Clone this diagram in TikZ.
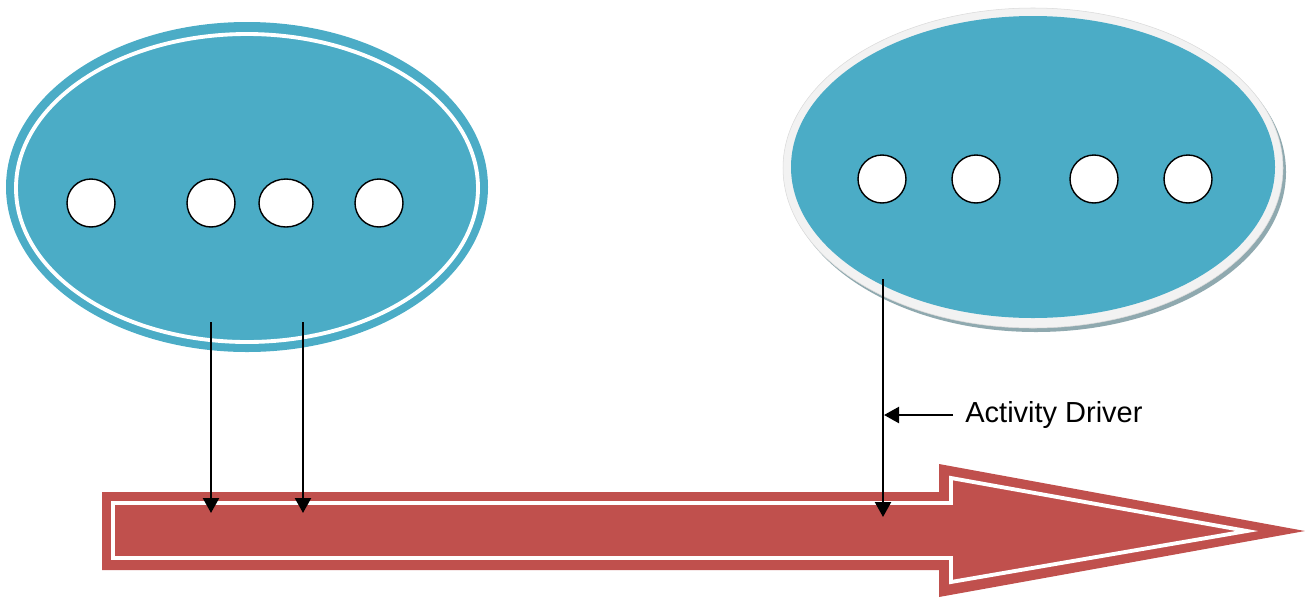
\documentclass[tikz,border=0pt]{standalone}
\usepackage{fontspec}
\setmainfont{Liberation Sans}
\usetikzlibrary{arrows.meta,shapes.geometric}
\definecolor{teal1}{HTML}{4BACC6}
\definecolor{red1}{HTML}{C0504D}
\definecolor{rim}{HTML}{F2F2F2}
\definecolor{shadowc}{HTML}{8FA9AF}
\tikzset{
  dot/.style={circle, draw=black, fill=white, line width=0.8pt, minimum size=0.96cm, inner sep=0pt},
  wdot/.style={ellipse, draw=black, fill=white, line width=0.8pt, minimum width=1.08cm, minimum height=0.96cm, inner sep=0pt},
  conn/.style={draw=black, line width=1.3pt, -{Triangle[width=0.32cm,length=0.3cm]}},
}
\begin{document}
\begin{tikzpicture}[x=0.02cm,y=-0.02cm]
\useasboundingbox (0,0) rectangle (1305,599);
% left ellipse
\fill[teal1] (247,187) ellipse [x radius=241, y radius=165];
\draw[white, line width=2.2pt] (247,188) ellipse [x radius=231, y radius=154];
\node[dot] (l1) at (91,203) {};
\node[dot] (l2) at (211,203) {};
\node[wdot] (l3) at (286,203) {};
\node[dot] (l4) at (379,203) {};
% right ellipse
\fill[shadowc] (1036,172) ellipse [x radius=250, y radius=160];
\filldraw[fill=rim, draw=rim!90!black, line width=0.3pt] (1033,168) ellipse [x radius=250, y radius=160];
\fill[teal1] (1033,167) ellipse [x radius=242, y radius=151];
\node[dot] (r1) at (882,179) {};
\node[dot] (r2) at (976,179) {};
\node[dot] (r3) at (1094,179) {};
\node[dot] (r4) at (1188,179) {};
% red arrow
\fill[red1] (102,492) -- (939,492) -- (939,464) -- (1305,531) -- (939,597) -- (939,570) -- (102,570) -- cycle;
\draw[white, line width=2.2pt] (113,503) -- (951,503) -- (951,478) -- (1247,531) -- (951,582) -- (951,558) -- (113,558) -- cycle;
% connectors
\coordinate (s1) at (211,322);
\coordinate (e1) at (211,513);
\coordinate (s2) at (303,322);
\coordinate (e2) at (303,513);
\coordinate (s3) at (883,279);
\coordinate (e3) at (883,517);
\coordinate (drv) at (884,415);
\path[conn] (s1) -- (e1);
\path[conn] (s2) -- (e2);
\path[conn] (s3) -- (e3);
\node[anchor=west, inner xsep=0.24cm, inner ysep=0pt, font=\fontsize{16.5}{20}\selectfont] (lbl) at (953,415) {Activity Driver};
\path[conn] (lbl.west) -- (drv);
\end{tikzpicture}
\end{document}
